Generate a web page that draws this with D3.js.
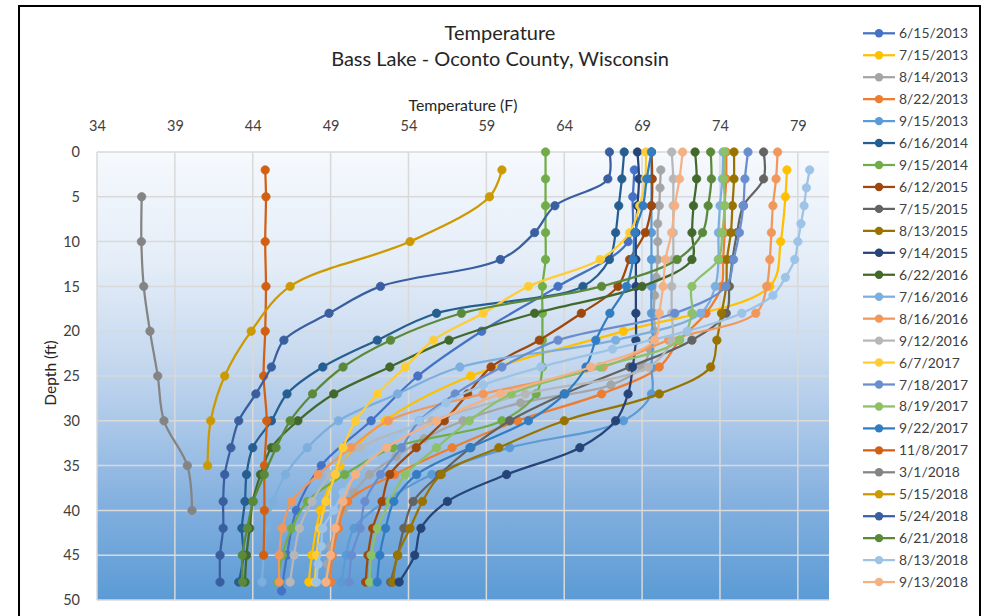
<!DOCTYPE html>
<html><head><meta charset="utf-8">
<script src="https://cdn.jsdelivr.net/npm/d3@7"></script>
<style>body{margin:0;background:#fff} svg text{font-family:Lato,"Open Sans",sans-serif}</style>
</head><body><svg id="c" width="985" height="616"></svg>
<script>
// ---- data ----
const seriesNames = ["6/15/2013","7/15/2013","8/14/2013","8/22/2013","9/15/2013","6/16/2014","9/15/2014","6/12/2015","7/15/2015","8/13/2015","9/14/2015","6/22/2016","7/16/2016","8/16/2016","9/12/2016","6/7/2017","7/18/2017","8/19/2017","9/22/2017","11/8/2017","3/1/2018","5/15/2018","5/24/2018","6/21/2018","8/13/2018","9/13/2018"];
const seriesColors = ["#4472C4","#FFC000","#A5A5A5","#ED7D31","#5B9BD5","#255E91","#70AD47","#9E480E","#636363","#997300","#264478","#43682B","#7CAFDD","#F1975A","#B7B7B7","#FFCD33","#698ED0","#8CC168","#327DC2","#D26012","#848484","#CC9A00","#3A5FA0","#5A8A39","#9DC3E6","#F4B183"];

const depthsEvery3 = [0,3,6,9,12,15,18,21,24,27,30,33,36,39,42,45,48];
const depthsEvery2 = [2,4,6,8,10,12,14,16,18,20,22,24,26,28,30,32,34,36,38,40,42,44,46,48];
const depthsJun2013 = [2,5,10,15,20,25,30,35,40,45,49];
const depthsJul2013 = [2,5,10,15,20,25,30,35,40,45,48];
const depthsNov2017 = [2,5,10,15,20,25,30,35,40,45];
const depthsMar2018 = [5,10,15,20,25,30,35,40];
const depthsMay2018 = [2,5,10,15,20,25,30,35];

const t20130615 = [68.5,68.4,68.1,63.6,58.7,54.6,51.6,48.4,46.8,46.2,45.85];
const t20130715 = [78.3,78.2,77.9,77.2,67.8,58.0,52.5,49.6,48.35,47.8,47.6];
const t20130814 = [70.2,70.15,70.1,70.0,70.0,70.0,69.9,69.8,69.75,69.8,69.5,69.0,67.0,61.2,57.5,55.0,53.2,51.5,50.5,49.8,49.3,49.0,48.8,48.7];
const t20130822 = [74.4,74.4,74.3,74.3,74.2,74.1,73.1,71.4,70.1,66.4,61.0,56.8,53.1,50.1,49.5,49.1,49.0];
const t20130915 = [69.6,69.6,69.6,69.6,69.6,69.6,69.6,69.7,69.6,69.6,67.8,60.5,55.5,52.5,50.5,50.0,49.7];
const t20140616 = [67.85,67.7,67.5,67.3,66.9,65.2,55.8,52.0,48.5,46.2,45.2,44.0,43.6,43.5,43.3,43.4,43.1];
const t20140915 = [62.8,62.8,62.8,62.8,62.8,62.6,62.6,62.6,62.6,62.2,60.0,53.0,49.9,47.5,46.5,45.9,45.6];
const t20150612 = [69.6,69.65,69.6,69.2,68.2,67.45,65.1,62.4,59.3,57.8,56.3,54.5,52.8,52.3,51.7,51.4,51.25];
const t20150715 = [76.8,76.8,75.5,75.1,74.8,74.6,74.4,72.2,68.2,64.0,60.5,58.0,56.0,54.3,53.7,53.3,52.85];
const t20150813 = [74.9,74.9,74.8,74.7,74.45,74.4,74.1,73.8,73.4,70.1,64.0,59.8,56.1,54.9,54.1,53.3,53.0];
const t20150914 = [68.7,68.8,68.7,68.6,68.6,68.6,68.6,68.6,68.4,68.1,67.3,65.0,60.3,56.5,54.8,54.4,53.4];
const t20160622 = [72.4,72.5,72.3,72.2,72.2,69.0,62.1,56.6,52.8,49.2,46.9,45.2,44.5,44.0,43.8,43.6,43.5];
const t20160716 = [74.2,74.15,74.0,73.9,73.9,73.7,72.75,67.3,57.3,53.3,49.5,47.5,46.1,45.3,44.9,44.7,44.6];
const t20160816 = [77.7,77.6,77.4,77.3,77.2,77.0,76.3,70.7,66.5,58.8,52.7,50.3,48.2,46.5,45.9,45.7,45.7];
const t20160912 = [70.9,71.0,71.0,71.0,71.0,70.9,70.9,70.9,69.4,61.5,55.5,50.9,49.0,47.8,47.0,46.65,46.4];
const t20170607 = [69.24,69.2,68.85,68.2,66.3,61.7,58.8,55.6,53.8,52.0,50.6,49.8,49.3,48.7,48.3,48.1,48.0];
const t20170718 = [75.8,75.6,75.5,75.25,74.87,74.38,71.1,63.6,60.0,57.0,54.7,53.55,52.2,51.2,50.9,50.35,50.2];
const t20170819 = [74.3,74.25,74.3,74.15,73.9,72.2,72.2,71.4,66.3,60.6,57.9,55.8,53.8,52.8,52.0,51.6,51.5];
const t20170922 = [69.6,69.3,69.06,68.53,68.42,68.0,66.93,66.03,65.4,64.04,61.7,57.94,54.52,53.06,52.53,52.16,51.99];
const t20171108 = [44.8,44.85,44.8,44.85,44.8,44.7,44.9,44.75,44.75,44.7];
const t20180301 = [36.87,36.85,37.0,37.4,37.9,38.3,39.8,40.1];
const t20180515 = [60.0,59.2,54.1,46.4,43.9,42.2,41.3,41.1];
const t20180524 = [66.9,66.8,63.4,62.1,59.9,52.2,48.9,46.0,45.2,44.2,43.1,42.6,42.2,42.1,42.1,41.9,41.9];
const t20180621 = [73.4,73.45,73.24,72.88,71.25,66.4,57.4,52.85,49.8,47.84,46.4,45.5,44.74,44.03,43.65,43.33,43.35];
const t20180813 = [79.76,79.55,79.4,79.2,79.0,78.8,78.2,77.4,75.4,71.9,67.1,62.5,58.8,56.4,54.7,53.0,51.7,50.6,49.8,49.2,48.5,48.4,48.2,48.1];
const t20180913 = [71.6,71.4,71.1,70.9,70.5,70.35,70.1,69.8,65.7,59.9,55.8,52.6,50.6,49.8,49.3,49.0,48.7];

const seriesDepths = [depthsJun2013,depthsJul2013,depthsEvery2,depthsEvery3,depthsEvery3,depthsEvery3,depthsEvery3,depthsEvery3,depthsEvery3,depthsEvery3,depthsEvery3,depthsEvery3,depthsEvery3,depthsEvery3,depthsEvery3,depthsEvery3,depthsEvery3,depthsEvery3,depthsEvery3,depthsNov2017,depthsMar2018,depthsMay2018,depthsEvery3,depthsEvery3,depthsEvery2,depthsEvery3];
const seriesTemps = [t20130615,t20130715,t20130814,t20130822,t20130915,t20140616,t20140915,t20150612,t20150715,t20150813,t20150914,t20160622,t20160716,t20160816,t20160912,t20170607,t20170718,t20170819,t20170922,t20171108,t20180301,t20180515,t20180524,t20180621,t20180813,t20180913];

const xTicks = [34,39,44,49,54,59,64,69,74,79];
const yTicks = [0,5,10,15,20,25,30,35,40,45,50];
const titleLines = ["Temperature","Bass Lake - Oconto County, Wisconsin"];
const xTitle = "Temperature (F)";
const yTitle = "Depth (ft)";

// ---- drawing ----
const svg = d3.select("#c");
const L = 97, R = 829, T = 152, B = 600;
const x = d3.scaleLinear().domain([34,81]).range([L,R]);
const y = d3.scaleLinear().domain([0,50]).range([T,B]);

svg.append("rect").attr("x",19).attr("y",6).attr("width",961).attr("height",630)
  .attr("fill","#fff").attr("stroke","#000").attr("stroke-width",2);

const defs = svg.append("defs");
const g = defs.append("linearGradient").attr("id","bg").attr("x1",0).attr("y1",0).attr("x2",0).attr("y2",1);
[[0,"#F6F9FD"],[0.25,"#E4EDF8"],[0.45,"#C8DAEF"],[0.62,"#A8C6E8"],[0.8,"#80AEDE"],[1,"#5B9BD5"]]
  .forEach(s=>g.append("stop").attr("offset",s[0]).attr("stop-color",s[1]));
svg.append("rect").attr("x",L).attr("y",T).attr("width",R-L).attr("height",B-T).attr("fill","url(#bg)");

const grid = svg.append("g").attr("stroke","#D9D9D9").attr("stroke-width",1.5);
xTicks.forEach(v=>grid.append("line").attr("x1",x(v)).attr("x2",x(v)).attr("y1",T).attr("y2",B));
yTicks.forEach(v=>grid.append("line").attr("x1",L).attr("x2",R).attr("y1",y(v)).attr("y2",y(v)));

const xa = svg.append("g").attr("transform",`translate(0,${T})`)
  .call(d3.axisTop(x).tickValues(xTicks).tickSize(0).tickPadding(21).tickFormat(d3.format("d")));
const ya = svg.append("g").attr("transform",`translate(${L},0)`)
  .call(d3.axisLeft(y).tickValues(yTicks).tickSize(0).tickPadding(17).tickFormat(d3.format("d")));
[xa,ya].forEach(a=>{a.select(".domain").remove();
  a.selectAll("text").attr("font-size","14.5px").attr("fill","#404040").style("font-family","Lato,sans-serif");});

svg.append("text").attr("x",500).attr("y",40).attr("text-anchor","middle").attr("font-size","20px").attr("fill","#262626").text(titleLines[0]);
svg.append("text").attr("x",500).attr("y",66).attr("text-anchor","middle").attr("font-size","20px").attr("fill","#262626").text(titleLines[1]);
svg.append("text").attr("x",463).attr("y",111).attr("text-anchor","middle").attr("font-size","15.8px").attr("fill","#262626").text(xTitle);
svg.append("text").attr("transform","translate(56,373) rotate(-90)").attr("text-anchor","middle").attr("font-size","15.5px").attr("fill","#262626").text(yTitle);

const line = d3.line().x(d=>x(d[1])).y(d=>y(d[0])).curve(d3.curveCatmullRom.alpha(0.5));
const plot = svg.append("g");
seriesNames.forEach((n,i)=>{
  const pts = seriesDepths[i].map((d,j)=>[d,seriesTemps[i][j]]);
  const sg = plot.append("g");
  sg.append("path").attr("d",line(pts)).attr("fill","none").attr("stroke",seriesColors[i]).attr("stroke-width",2.25).attr("stroke-linejoin","round");
  sg.selectAll("circle").data(pts).join("circle").attr("cx",d=>x(d[1])).attr("cy",d=>y(d[0])).attr("r",4.2)
    .attr("fill",seriesColors[i]).attr("stroke",seriesColors[i]).attr("stroke-width",0.75);
});

const leg = svg.append("g");
seriesNames.forEach((n,i)=>{
  const yy = 33.3 + i*21.95;
  leg.append("line").attr("x1",863).attr("x2",895).attr("y1",yy).attr("y2",yy).attr("stroke",seriesColors[i]).attr("stroke-width",2.25);
  leg.append("circle").attr("cx",879).attr("cy",yy).attr("r",4.2).attr("fill",seriesColors[i]);
  leg.append("text").attr("x",899).attr("y",yy+5).attr("font-size","13.9px").attr("fill","#404040").text(n);
});
</script></body></html>
